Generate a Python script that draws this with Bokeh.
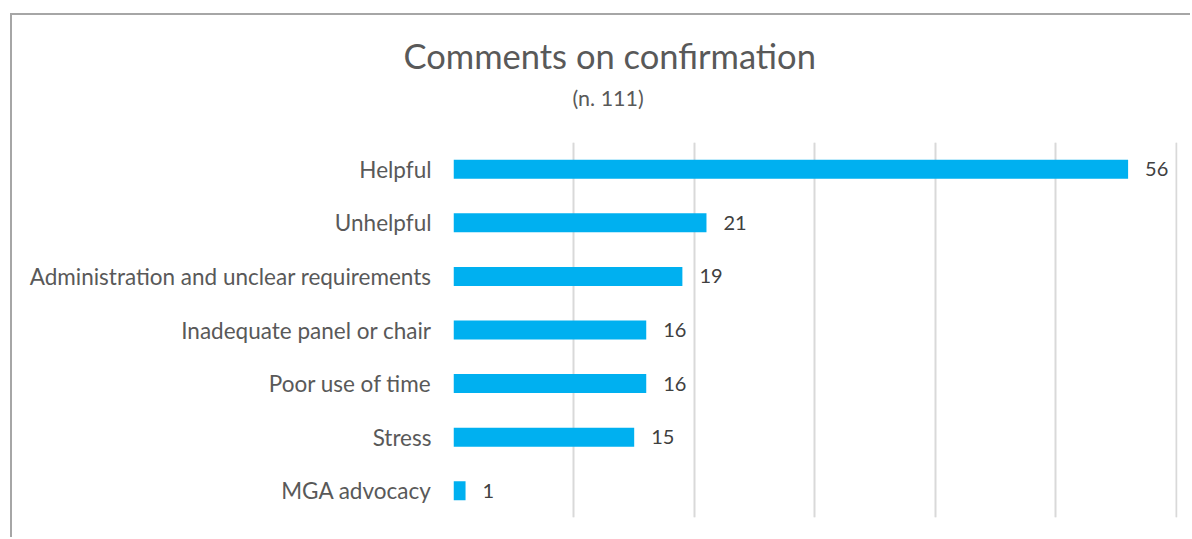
from bokeh.plotting import figure
from bokeh.models import FactorRange, Range1d, FixedTicker, Grid, Title, ColumnDataSource
from bokeh.core.properties import value
from bokeh.embed import file_html
from bokeh.resources import INLINE

categories = ["Helpful", "Unhelpful", "Administration and unclear requirements",
              "Inadequate panel or chair", "Poor use of time", "Stress", "MGA advocacy"]
counts = [56, 21, 19, 16, 16, 15, 1]
grid_ticks = [0, 10, 20, 30, 40, 50, 60]

FONT = "Lato"
BAR = "#00B0F0"

src = ColumnDataSource(dict(cat=categories, val=counts, lab=[str(v) for v in counts]))

# host placed at (10, 13) with a 2px border => canvas origin at (12, 15)
p = figure(width=1180, height=524, output_backend="svg", toolbar_location=None,
           y_range=FactorRange(factors=categories[::-1], range_padding=0),
           x_range=Range1d(0, 60.1), x_axis_location=None,
           min_border_left=441, min_border_right=15, min_border_top=127, min_border_bottom=22)
p.styles = {"border-left": "2px solid #a6a6a6", "border-top": "2px solid #a6a6a6",
            "margin-left": "10px", "margin-top": "13px"}
p.outline_line_color = None
p.background_fill_color = "white"
p.border_fill_color = "white"

p.ygrid.visible = False
p.yaxis.axis_line_color = None
p.yaxis.major_tick_line_color = None
p.yaxis.minor_tick_line_color = None
p.yaxis.major_label_text_font = FONT
p.yaxis.major_label_text_font_size = "22.5px"
p.yaxis.major_label_text_color = "#595959"
p.yaxis.major_label_standoff = 16

g = Grid(dimension=0, ticker=FixedTicker(ticks=grid_ticks), grid_line_color="#d9d9d9", grid_line_width=2)
p.add_layout(g)

p.hbar(y="cat", right="val", left=0, height=0.355, source=src, fill_color=BAR, line_color=None)
p.text(x="val", y="cat", text="lab", source=src, x_offset=17, text_baseline="middle", text_align="left",
       text_font=value(FONT), text_font_size="20px", text_color="#404040")

p.add_layout(Title(text="(n. 111)", align="left", offset=119, standoff=64, text_font=FONT,
                   text_font_size="21.5px", text_color="#595959", text_font_style="normal"), "above")
p.add_layout(Title(text="Comments on confirmation", align="left", offset=-50, standoff=-50, text_font=FONT,
                   text_font_size="34.5px", text_color="#595959", text_font_style="normal"), "above")

open("out.html", "w").write(file_html(p, INLINE))
